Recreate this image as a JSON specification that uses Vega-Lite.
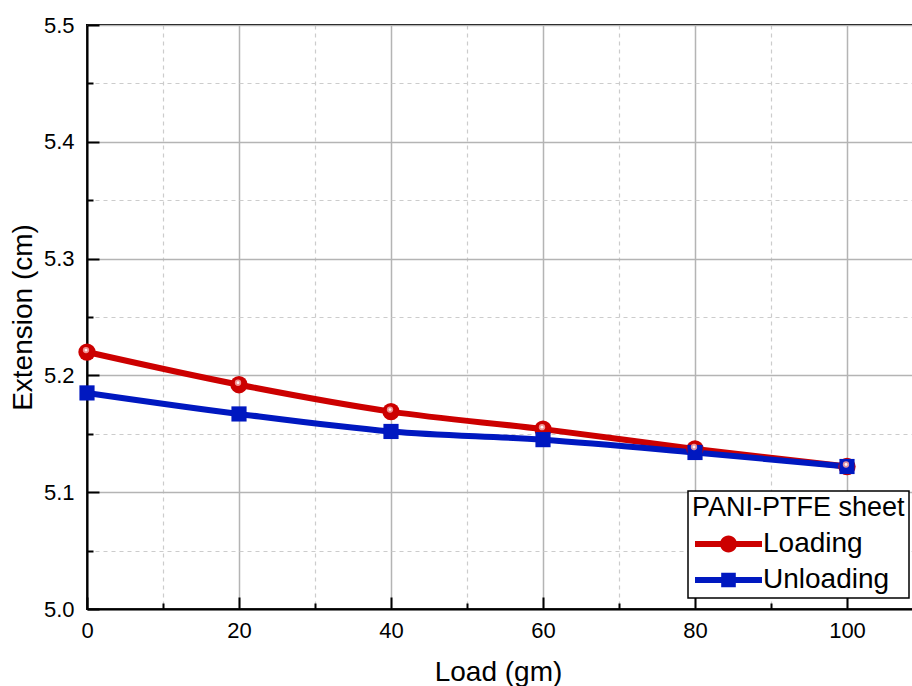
{
  "$schema": "https://vega.github.io/schema/vega-lite/v6.json",
  "width": 836,
  "height": 584,
  "autosize": {"type": "none"},
  "padding": {"left": 87, "top": 25, "right": 0, "bottom": 77},
  "background": "white",
  "config": {
    "font": "Liberation Sans",
    "view": {"stroke": "black", "strokeWidth": 2}
  },
  "data": {
    "values": [
      {"load": 0, "extension": 5.220, "series": "Loading"},
      {"load": 20, "extension": 5.192, "series": "Loading"},
      {"load": 40, "extension": 5.169, "series": "Loading"},
      {"load": 60, "extension": 5.154, "series": "Loading"},
      {"load": 80, "extension": 5.137, "series": "Loading"},
      {"load": 100, "extension": 5.122, "series": "Loading"},
      {"load": 0, "extension": 5.185, "series": "Unloading"},
      {"load": 20, "extension": 5.167, "series": "Unloading"},
      {"load": 40, "extension": 5.152, "series": "Unloading"},
      {"load": 60, "extension": 5.145, "series": "Unloading"},
      {"load": 80, "extension": 5.134, "series": "Unloading"},
      {"load": 100, "extension": 5.122, "series": "Unloading"}
    ]
  },
  "resolve": {"axis": {"x": "independent", "y": "independent"}},
  "layer": [
    {
      "mark": {"type": "line", "strokeWidth": 6, "interpolate": "monotone"},
      "encoding": {
        "x": {
          "field": "load", "type": "quantitative",
          "scale": {"domain": [0, 110], "nice": false, "zero": false},
          "axis": {
            "orient": "bottom",
            "values": [0, 20, 40, 60, 80, 100],
            "grid": true, "gridColor": "#b4b4b4", "gridWidth": 1.5,
            "tickSize": -12, "tickWidth": 2, "tickColor": "black",
            "domainColor": "black", "domainWidth": 2,
            "labelFontSize": 22, "labelColor": "black", "labelPadding": 23, "labelFlush": false,
            "title": "Load (gm)", "titleFontSize": 28, "titleFontWeight": "normal",
            "titleColor": "black", "titlePadding": 17, "titleX": 411
          }
        },
        "y": {
          "field": "extension", "type": "quantitative",
          "scale": {"domain": [5.0, 5.5], "nice": false, "zero": false},
          "axis": {
            "orient": "left",
            "values": [5.0, 5.1, 5.2, 5.3, 5.4, 5.5],
            "format": ".1f",
            "grid": true, "gridColor": "#b4b4b4", "gridWidth": 1.5,
            "tickSize": -12, "tickWidth": 2, "tickColor": "black",
            "domainColor": "black", "domainWidth": 2,
            "labelFontSize": 22, "labelColor": "black", "labelPadding": 25, "labelFlush": false,
            "title": "Extension (cm)", "titleFontSize": 28, "titleFontWeight": "normal",
            "titleColor": "black", "titlePadding": 6
          }
        },
        "color": {
          "field": "series", "type": "nominal",
          "scale": {"domain": ["Loading", "Unloading"], "range": ["#cc0000", "#0018c0"]},
          "legend": {
            "title": "PANI-PTFE sheet",
            "orient": "none", "legendX": 601, "legendY": 466,
            "titleFontSize": 27, "titleFontWeight": "normal", "titleColor": "black",
            "titlePadding": 8, "titleLimit": 1000, "labelLimit": 1000,
            "labelFontSize": 28, "labelColor": "black", "labelOffset": 43,
            "symbolSize": 400, "rowPadding": 8,
            "padding": 4,
            "fillColor": "white", "strokeColor": "black",
            "encode": {
              "legend": {"update": {"strokeWidth": {"value": 1.5}}},
              "symbols": {
                "update": {
                  "shape": {"signal": "datum.value === 'Loading' ? 'M-1.1,-0.3 L5.6,-0.3 L5.6,0.3 L-1.1,0.3 Z M1.4,0 A0.85,0.85 0 1,1 3.1,0 A0.85,0.85 0 1,1 1.4,0 Z' : 'M-1.1,-0.3 L5.6,-0.3 L5.6,0.3 L-1.1,0.3 Z M1.52,-0.73 L2.98,-0.73 L2.98,0.73 L1.52,0.73 Z'"},
                  "size": {"value": 400},
                  "fill": {"signal": "scale('color', datum.value)"},
                  "fillOpacity": {"value": 1},
                  "opacity": {"value": 1},
                  "strokeWidth": {"value": 0}
                }
              }
            }
          }
        }
      }
    },
    {
      "transform": [{"filter": "datum.series === 'Loading'"}],
      "mark": {"type": "point", "filled": true, "opacity": 1, "shape": "circle", "size": 300},
      "encoding": {
        "x": {
          "field": "load", "type": "quantitative",
          "axis": {
            "orient": "bottom",
            "values": [10, 30, 50, 70, 90, 110],
            "grid": true, "gridColor": "#cccccc", "gridWidth": 1.2, "gridDash": [4, 4],
            "tickSize": -6, "tickWidth": 2, "tickColor": "black",
            "domain": false, "labels": false, "title": null
          }
        },
        "y": {
          "field": "extension", "type": "quantitative",
          "axis": {
            "orient": "left",
            "values": [5.05, 5.15, 5.25, 5.35, 5.45],
            "grid": true, "gridColor": "#cccccc", "gridWidth": 1.2, "gridDash": [4, 4],
            "tickSize": -6, "tickWidth": 2, "tickColor": "black",
            "domain": false, "labels": false, "title": null
          }
        },
        "color": {"field": "series", "type": "nominal"}
      }
    },
    {
      "transform": [{"filter": "datum.series === 'Unloading'"}],
      "mark": {"type": "point", "filled": true, "opacity": 1, "shape": "square", "size": 230},
      "encoding": {
        "x": {"field": "load", "type": "quantitative", "axis": null},
        "y": {"field": "extension", "type": "quantitative", "axis": null},
        "color": {"field": "series", "type": "nominal"}
      }
    },
    {
      "transform": [{"filter": "datum.series === 'Loading'"}],
      "mark": {"type": "point", "filled": true, "color": "#f4a0a0", "opacity": 0.9, "size": 40, "yOffset": -2, "xOffset": -1},
      "encoding": {
        "x": {"field": "load", "type": "quantitative", "axis": null},
        "y": {"field": "extension", "type": "quantitative", "axis": null}
      }
    },
    {
      "transform": [{"filter": "datum.series === 'Loading'"}],
      "mark": {"type": "point", "filled": true, "color": "#ffffff", "opacity": 0.9, "size": 8, "yOffset": -2, "xOffset": -1},
      "encoding": {
        "x": {"field": "load", "type": "quantitative", "axis": null},
        "y": {"field": "extension", "type": "quantitative", "axis": null}
      }
    }
  ]
}
